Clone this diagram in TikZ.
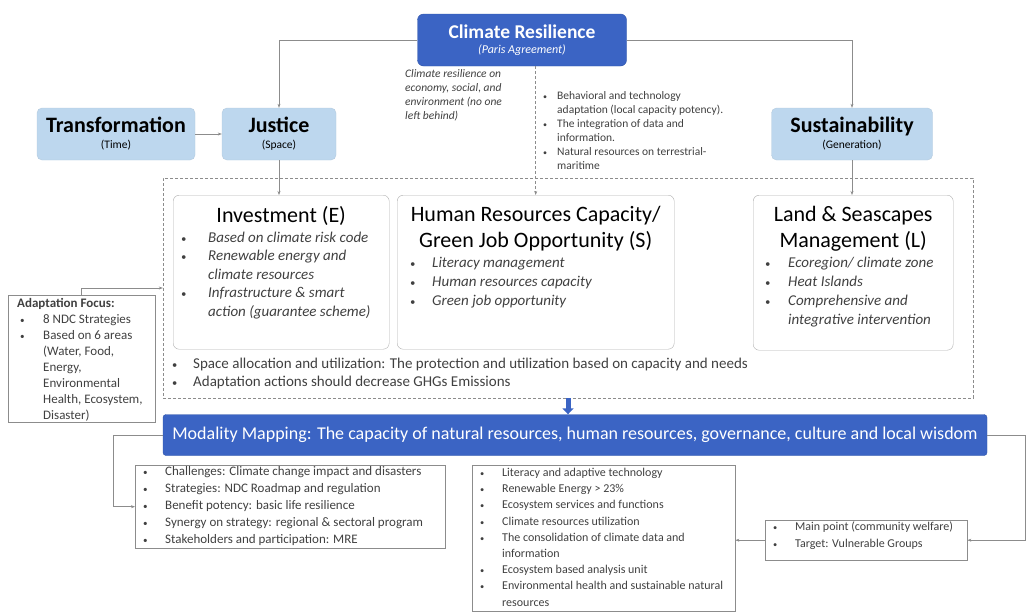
\documentclass[tikz,border=0pt]{standalone}
\usepackage{fontspec}
\setmainfont{Carlito}
\usepackage{tikz}
\usetikzlibrary{arrows.meta,positioning,calc}
\definecolor{resblue}{HTML}{3B64C4}
\definecolor{resedge}{HTML}{2F55A8}
\definecolor{pillarblue}{HTML}{BDD7EE}
\definecolor{linkgray}{HTML}{8C8C8C}
\definecolor{notegray}{HTML}{404040}

\newlength{\bulin}
\newlength{\bulgap}
\newcommand{\bitem}[1]{\par\noindent\hangindent=\dimexpr\bulin+\bulgap\relax\hangafter=1\hspace*{\bulin}\makebox[\bulgap][l]{\scalebox{0.7}{\textbullet}}#1}

\begin{document}
\begin{tikzpicture}[x=1pt,y=-1pt,
    resbox/.style={draw=resedge,fill=resblue,rounded corners=6pt,text=white,align=center,inner sep=0pt},
    pillarbox/.style={fill=pillarblue,draw=pillarblue!85!gray,rounded corners=5pt,align=center,minimum height=52pt,inner sep=0pt},
    areabox/.style={draw=linkgray!70,rounded corners=6pt,inner sep=0pt,anchor=north west},
    notebox/.style={draw=linkgray,inner sep=0pt,anchor=north west},
    sidenote/.style={anchor=north west,inner sep=0pt,align=left,text=notegray,font=\fontsize{11.5}{14}\selectfont},
    link/.style={draw=linkgray,line width=0.5pt,-{Stealth[length=4pt,width=3pt]}}]
    \useasboundingbox (0,0) rectangle (1031,611);

    % top level
    \node[resbox,minimum width=209pt,minimum height=52pt] (cr) at (522,40)
        {{\fontsize{19.5}{22}\selectfont\bfseries Climate Resilience}\\[3pt]{\fontsize{12}{14}\selectfont\itshape (Paris Agreement)}};
    \node[pillarbox,minimum width=158pt] (trans) at (116,134)
        {{\fontsize{22}{25}\selectfont\bfseries Transformation}\\[4pt]{\fontsize{11.5}{14}\selectfont (Time)}};
    \node[pillarbox,minimum width=114pt] (just) at (279,134)
        {{\fontsize{22}{25}\selectfont\bfseries Justice}\\[4pt]{\fontsize{11.5}{14}\selectfont (Space)}};
    \node[pillarbox,minimum width=161pt] (sus) at (852,134)
        {{\fontsize{22}{25}\selectfont\bfseries Sustainability}\\[4pt]{\fontsize{11.5}{14}\selectfont (Generation)}};

    \node[sidenote,font=\fontsize{11.5}{14}\selectfont\itshape] (crnote) at (405,69)
        {Climate resilience on\\economy, social, and\\environment (no one\\left behind)};
    \node[sidenote] (capnote) at (543,91) {%
        \begin{minipage}[t]{200pt}\raggedright
        \setlength{\bulin}{0pt}\setlength{\bulgap}{14pt}
        \bitem{Behavioral and technology\newline adaptation (local capacity potency).}
        \bitem{The integration of data and\newline information.}
        \bitem{Natural resources on terrestrial-\newline maritime}
        \end{minipage}};

    % the three areas
    \node[draw=linkgray,dash pattern=on 3pt off 2pt,minimum width=810pt,minimum height=220pt,inner sep=0pt] (pillars) at (568,288) {};

    \node[areabox] (inv) at (173,195) {%
        \begin{minipage}[t][154pt][t]{216pt}\raggedright
        \setlength{\bulin}{8pt}\setlength{\bulgap}{27pt}
        \vspace*{11pt}
        {\centering\fontsize{22}{26}\selectfont Investment (E)\par}
        \vspace{1.5pt}
        \fontsize{15}{18.5}\selectfont\itshape\color{notegray}
        \bitem{Based on climate risk code}
        \bitem{Renewable energy and\newline climate resources}
        \bitem{Infrastructure \& smart\newline action (guarantee scheme)}
        \end{minipage}};
    \node[areabox] (hr) at (397,195) {%
        \begin{minipage}[t][154pt][t]{277pt}\raggedright
        \setlength{\bulin}{13pt}\setlength{\bulgap}{22pt}
        \vspace*{11pt}
        {\centering\fontsize{22}{26}\selectfont Human Resources Capacity/\\Green Job Opportunity (S)\par}
        \vspace{1.5pt}
        \fontsize{15}{18.8}\selectfont\itshape\color{notegray}
        \bitem{Literacy management}
        \bitem{Human resources capacity}
        \bitem{Green job opportunity}
        \end{minipage}};
    \node[areabox] (land) at (753,195) {%
        \begin{minipage}[t][155pt][t]{200pt}\raggedright
        \setlength{\bulin}{12pt}\setlength{\bulgap}{23pt}
        \vspace*{11pt}
        {\centering\fontsize{22}{26}\selectfont Land \& Seascapes\\Management (L)\par}
        \vspace{1.5pt}
        \fontsize{15}{18.8}\selectfont\itshape\color{notegray}
        \bitem{Ecoregion/ climate zone}
        \bitem{Heat Islands}
        \bitem{Comprehensive and\newline integrative intervention}
        \end{minipage}};
    \node[sidenote,font=\fontsize{15}{18}\selectfont] (spacenote) at (172,358) {%
        \begin{minipage}[t]{790pt}\raggedright
        \setlength{\bulin}{0pt}\setlength{\bulgap}{21pt}
        \bitem{Space allocation and utilization: The protection and utilization based on capacity and needs}
        \bitem{Adaptation actions should decrease GHGs Emissions}
        \end{minipage}};

    \node[notebox] (adapt) at (8,295) {%
        \begin{minipage}[t][127pt][t]{147pt}\raggedright
        \fontsize{13}{16}\selectfont\color{notegray}
        \setlength{\bulin}{12pt}\setlength{\bulgap}{23pt}
        \vspace*{3pt}
        \hspace*{9pt}\textbf{Adaptation Focus:}
        \bitem{8 NDC Strategies}
        \bitem{Based on 6 areas\newline (Water, Food,\newline Energy,\newline Environmental\newline Health, Ecosystem,\newline Disaster)}
        \end{minipage}};

    % modality mapping
    \node[resbox,minimum width=824pt,minimum height=41pt,rounded corners=3pt] (modal) at (575,435)
        {\fontsize{18}{20}\selectfont Modality Mapping: The capacity of natural resources, human resources, governance, culture and local wisdom};

    \node[notebox] (chall) at (135,465) {%
        \begin{minipage}[t][83pt][t]{310pt}\raggedright
        \fontsize{13}{17}\selectfont\color{notegray}
        \setlength{\bulin}{8pt}\setlength{\bulgap}{22pt}
        \vspace*{1pt}
        \bitem{Challenges: Climate change impact and disasters}
        \bitem{Strategies: NDC Roadmap and regulation}
        \bitem{Benefit potency: basic life resilience}
        \bitem{Synergy on strategy: regional \& sectoral program}
        \bitem{Stakeholders and participation: MRE}
        \end{minipage}};
    \node[notebox] (lit) at (472,465) {%
        \begin{minipage}[t][146pt][t]{263pt}\raggedright
        \fontsize{12}{16.2}\selectfont\color{notegray}
        \setlength{\bulin}{8pt}\setlength{\bulgap}{22pt}
        \vspace*{3pt}
        \bitem{Literacy and adaptive technology}
        \bitem{Renewable Energy > 23\%}
        \bitem{Ecosystem services and functions}
        \bitem{Climate resources utilization}
        \bitem{The consolidation of climate data and\newline information}
        \bitem{Ecosystem based analysis unit}
        \bitem{Environmental health and sustainable natural\newline resources}
        \end{minipage}};
    \node[notebox] (main) at (765,520) {%
        \begin{minipage}[t][40pt][t]{202pt}\raggedright
        \fontsize{12}{17}\selectfont\color{notegray}
        \setlength{\bulin}{8pt}\setlength{\bulgap}{22pt}
        \vspace*{2pt}
        \bitem{Main point (community welfare)}
        \bitem{Target: Vulnerable Groups}
        \end{minipage}};

    % connectors
    \draw[link] (cr.west) -| (just.north);
    \draw[link] (cr.east) -| (sus.north);
    \draw[link] (trans) -- (just);
    \draw[link,dash pattern=on 3pt off 2pt] (hr.north |- cr.south) -- (hr.north);
    \draw[link] (just.south) -- (inv.north -| just.south);
    \draw[link] (sus.south) -- (land.north -| sus.south);
    \draw[link] (adapt.north) |- (pillars.west);
    \draw[resblue,line width=5pt,-{Triangle[length=6pt,width=11pt]}] (pillars.south) -- (pillars.south |- modal.north);
    \draw[link] (modal.west) -- ++(-50,0) |- (chall.west);
    \draw[link] (modal.east) -- ++(38,0) |- (main.east);
    \draw[link] (main.west) -- (main.west -| lit.east);
\end{tikzpicture}
\end{document}
